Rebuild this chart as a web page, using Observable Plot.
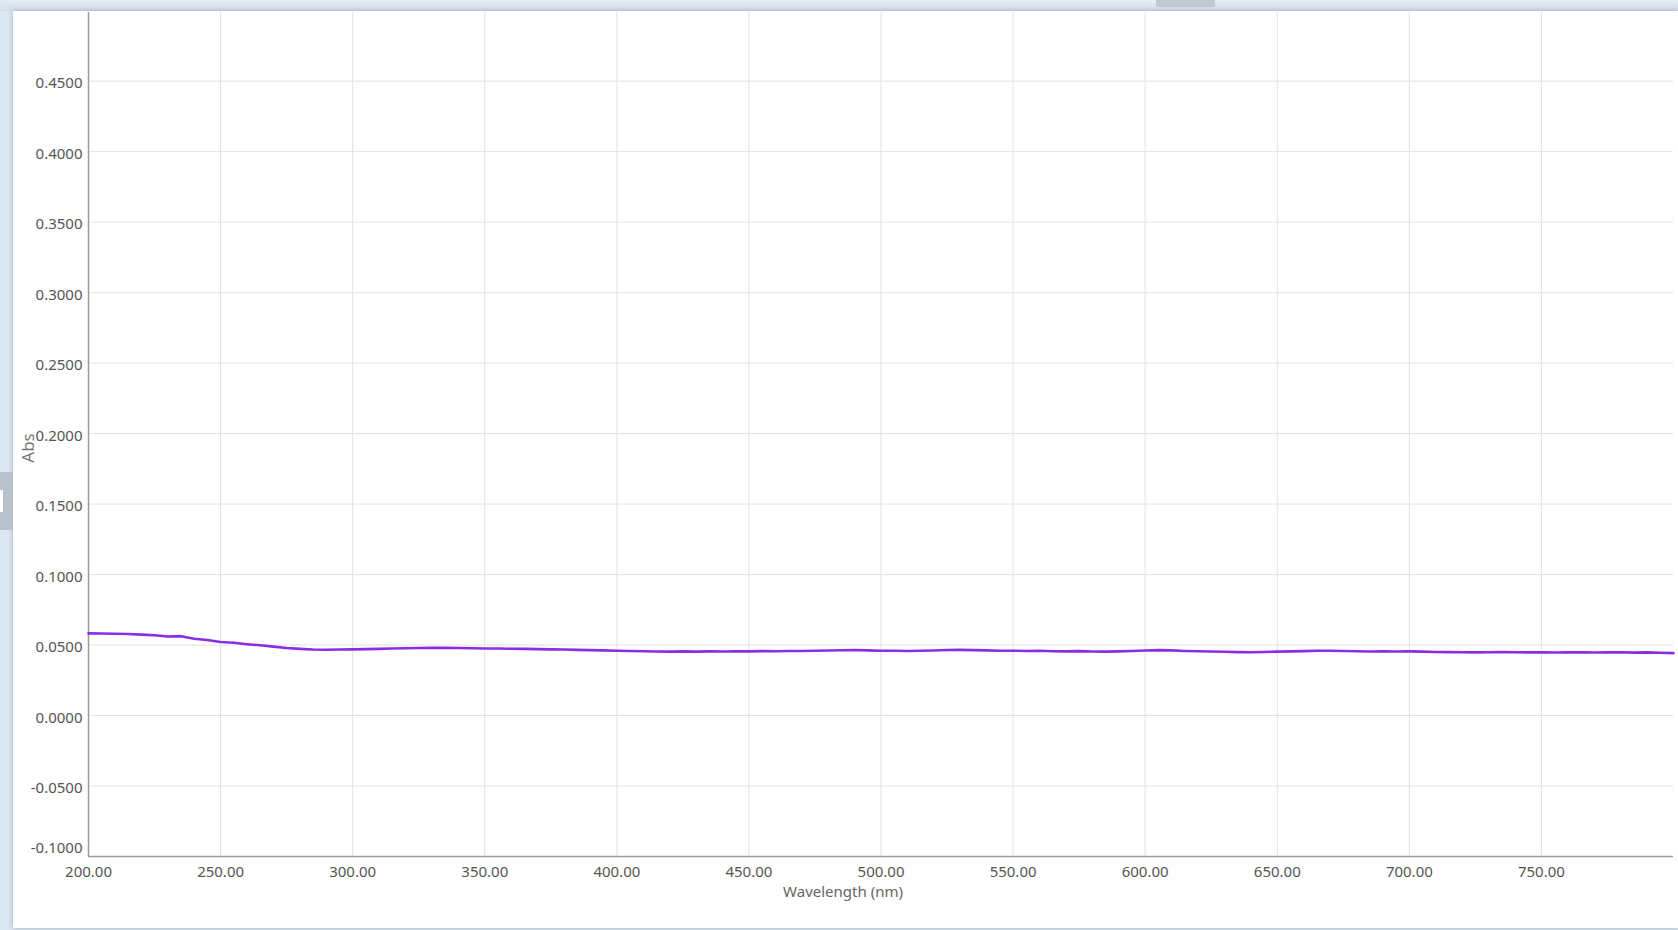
<!DOCTYPE html>
<html>
<head>
<meta charset="utf-8">
<script src="https://cdn.jsdelivr.net/npm/d3@7"></script>
<script src="https://cdn.jsdelivr.net/npm/@observablehq/plot@0.6"></script>
<style>
  html, body { margin: 0; padding: 0; width: 1678px; height: 930px; overflow: hidden; background: #dce8f1; font-family: "Noto Sans", sans-serif; }
  #topband { position: absolute; left: 0; top: 0; width: 1678px; height: 11px; background: linear-gradient(#e2edf5, #d3e0ea); }
  #toptab { position: absolute; left: 1156px; top: 0; width: 59px; height: 7px; background: #bfc9d3; border-radius: 0 0 2px 2px; }
  #panel { position: absolute; left: 13px; top: 11px; width: 1665px; height: 917px; background: #fff; box-shadow: 0 0 5px rgba(80,100,120,0.45); }
  #lefttab { position: absolute; left: 0; top: 472px; width: 13px; height: 58px; background: #b9c2cc; }
  #lefttab-in { position: absolute; left: 0; top: 490px; width: 3px; height: 22px; background: #fff; }
  #chart { position: absolute; left: 0; top: 0; }
</style>
</head>
<body>
<div id="topband"></div>
<div id="toptab"></div>
<div id="panel"></div>
<div id="lefttab"></div>
<div id="lefttab-in"></div>
<div id="chart"></div>
<script>
const wavelengths = [
  200,205,210,215,220,225,230,235,240,245,250,255,260,265,270,275,280,285,290,295,
  300,305,310,315,320,325,330,335,340,345,350,355,360,365,370,375,380,385,390,395,
  400,405,410,415,420,425,430,435,440,445,450,455,460,465,470,475,480,485,490,495,
  500,505,510,515,520,525,530,535,540,545,550,555,560,565,570,575,580,585,590,595,
  600,605,610,615,620,625,630,635,640,645,650,655,660,665,670,675,680,685,690,695,
  700,705,710,715,720,725,730,735,740,745,750,755,760,765,770,775,780,785,790,795,800
];
const absorbance = [
  0.0583,0.0582,0.0580,0.0578,0.0574,0.0569,0.0561,0.0563,0.0545,0.0536,0.0522,0.0516,0.0506,0.0498,0.0489,0.0479,0.0473,0.0468,0.0467,0.0468,
  0.0469,0.0471,0.0473,0.0475,0.0477,0.0479,0.0480,0.0481,0.0479,0.0477,0.0475,0.0476,0.0474,0.0473,0.0471,0.0469,0.0468,0.0466,0.0464,0.0462,
  0.0460,0.0458,0.0456,0.0454,0.0453,0.0455,0.0453,0.0455,0.0454,0.0456,0.0455,0.0457,0.0456,0.0458,0.0458,0.0460,0.0461,0.0463,0.0465,0.0462,
  0.0460,0.0459,0.0458,0.0459,0.0461,0.0465,0.0466,0.0464,0.0462,0.0460,0.0460,0.0458,0.0459,0.0456,0.0455,0.0457,0.0454,0.0453,0.0455,0.0458,
  0.0461,0.0464,0.0462,0.0458,0.0456,0.0454,0.0452,0.0450,0.0449,0.0451,0.0453,0.0455,0.0457,0.0459,0.0460,0.0458,0.0456,0.0454,0.0455,0.0454,
  0.0455,0.0453,0.0451,0.0450,0.0449,0.0448,0.0449,0.0450,0.0449,0.0448,0.0448,0.0447,0.0448,0.0449,0.0447,0.0448,0.0449,0.0446,0.0448,0.0445,0.0443
];
const xTicks = [200,250,300,350,400,450,500,550,600,650,700,750];
const yTicks = [-0.1,-0.05,0,0.05,0.1,0.15,0.2,0.25,0.3,0.35,0.4,0.45];
const xLabel = "Wavelength (nm)";
const yLabel = "Abs";

const data = wavelengths.map((w, i) => ({w, a: absorbance[i]}));
const fmtY = d => d.toFixed(4);

const chart = Plot.plot({
  width: 1678,
  height: 930,
  marginLeft: 88,
  marginRight: 5,
  marginTop: 12,
  marginBottom: 74,
  style: {background: "transparent", fontFamily: "'Noto Sans', sans-serif", fontSize: "15px", color: "#555"},
  x: {domain: [200, 800]},
  y: {domain: [-0.1, 0.4987]},
  marks: [
    Plot.gridX(xTicks, {stroke: "#e2e2e2", strokeOpacity: 1}),
    Plot.gridY(yTicks, {stroke: "#e2e2e2", strokeOpacity: 1}),
    Plot.ruleX([200], {stroke: "#9a9a9a", strokeWidth: 1.5}),
    Plot.ruleY([-0.1], {stroke: "#9a9a9a", strokeWidth: 1.5}),
    Plot.axisX(xTicks, {tickSize: 0, tickPadding: 10, tickFormat: d => d.toFixed(2), label: null, fill: "#555"}),
    Plot.axisY(yTicks.slice(1), {tickSize: 0, tickPadding: 6, tickFormat: fmtY, label: null, dy: 2.5, fill: "#555"}),
    Plot.axisY(yTicks.slice(0, 1), {tickSize: 0, tickPadding: 6, tickFormat: fmtY, label: null, dy: -8, fill: "#555"}),
    Plot.line(data, {x: "w", y: "a", stroke: "#8b2ce2", strokeWidth: 2.6, curve: "linear"}),
    Plot.text([xLabel], {text: d => d, frameAnchor: "bottom", dx: -38, dy: 40, fill: "#666", fontSize: 15}),
    Plot.text([yLabel], {text: d => d, frameAnchor: "left", textAnchor: "middle", rotate: -90, dx: -60, dy: 13.5, fill: "#777", fontSize: 17})
  ]
});
document.getElementById("chart").appendChild(chart);
</script>
</body>
</html>
